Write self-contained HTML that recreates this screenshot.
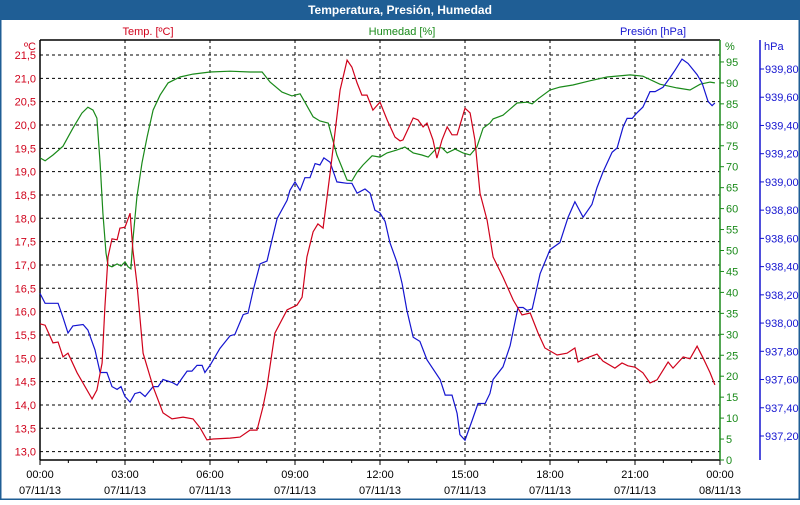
<!DOCTYPE html>
<html><head><meta charset="utf-8"><style>
body{margin:0;width:800px;height:500px;overflow:hidden;background:#fff;font-family:"Liberation Sans",sans-serif}
svg text{font-family:"Liberation Sans",sans-serif;font-size:11px}
</style></head><body>
<svg id="chart" width="800" height="500" xmlns="http://www.w3.org/2000/svg">
<rect x="0.5" y="0.5" width="799" height="499" fill="#fff" stroke="#1f5e95" stroke-width="2"/>
<rect x="0" y="0" width="800" height="20" fill="#1f5e95"/>
<text x="400" y="14" text-anchor="middle" fill="#fff" font-weight="bold" style="font-size:12px">Temperatura, Presión, Humedad</text>
<text x="148" y="35" text-anchor="middle" fill="#d0021b">Temp. [ºC]</text>
<text x="402" y="35" text-anchor="middle" fill="#1a8a1a">Humedad [%]</text>
<text x="653" y="35" text-anchor="middle" fill="#1515d0">Presión [hPa]</text>
<text x="36" y="50" text-anchor="end" fill="#d0021b">ºC</text>
<text x="725" y="50" fill="#1a8a1a">%</text>
<text x="764" y="50" fill="#1515d0">hPa</text>
<g id="grid"></g><g id="axes"></g><g id="series"></g>
</svg>
<script>
const tempTicks=[13.0,13.5,14.0,14.5,15.0,15.5,16.0,16.5,17.0,17.5,18.0,18.5,19.0,19.5,20.0,20.5,21.0,21.5];
const humTicks=[0,5,10,15,20,25,30,35,40,45,50,55,60,65,70,75,80,85,90,95];
const presTicks=[937.2,937.4,937.6,937.8,938.0,938.2,938.4,938.6,938.8,939.0,939.2,939.4,939.6,939.8];
const timeTicks=["00:00","03:00","06:00","09:00","12:00","15:00","18:00","21:00","00:00"];
const dateTicks=["07/11/13","07/11/13","07/11/13","07/11/13","07/11/13","07/11/13","07/11/13","07/11/13","08/11/13"];
const tempHours=[0,.18,.46,.64,.81,.99,1.31,1.84,2.01,2.19,2.29,2.40,2.54,2.72,2.82,3.00,3.18,3.28,3.42,3.64,3.99,4.34,4.66,5.05,5.40,5.65,5.89,6.11,6.71,7.06,7.41,7.66,7.87,8.01,8.29,8.72,9.07,9.25,9.42,9.64,9.81,9.99,10.24,10.59,10.84,11.01,11.19,11.36,11.54,11.75,12.00,12.25,12.53,12.71,12.81,13.17,13.34,13.52,13.66,13.87,14.01,14.19,14.37,14.54,14.72,15.00,15.18,15.35,15.53,15.78,15.99,16.34,16.70,17.01,17.30,17.58,17.82,18.25,18.60,18.88,18.99,19.31,19.66,19.87,20.29,20.54,20.75,21.00,21.28,21.53,21.78,22.17,22.34,22.70,22.94,23.19,23.40,23.65,23.82];
const tempValues=[15.74,15.71,15.33,15.35,15.03,15.11,14.69,14.13,14.32,14.90,16.10,17.17,17.56,17.54,17.79,17.81,18.11,17.32,16.61,15.11,14.39,13.83,13.70,13.74,13.70,13.51,13.25,13.27,13.29,13.31,13.46,13.46,13.96,14.39,15.54,16.04,16.14,16.31,17.17,17.71,17.88,17.79,18.97,20.75,21.39,21.24,20.90,20.64,20.64,20.32,20.49,20.11,19.74,19.66,19.68,20.15,20.11,19.96,20.04,19.68,19.29,19.68,19.96,19.79,19.79,20.36,20.26,19.68,18.54,17.96,17.17,16.74,16.25,15.93,15.97,15.54,15.22,15.07,15.11,15.22,14.92,15.01,15.09,14.94,14.79,14.90,14.84,14.81,14.69,14.47,14.54,14.92,14.79,15.03,14.99,15.26,15.01,14.69,14.43];
const humHours=[0,.18,.46,.81,1.16,1.48,1.69,1.87,2.01,2.12,2.22,2.33,2.40,2.54,2.72,2.86,3.00,3.11,3.21,3.28,3.42,3.60,3.78,3.99,4.24,4.52,4.94,5.40,6.00,6.71,7.41,7.84,8.12,8.54,8.89,9.18,9.35,9.64,9.88,10.17,10.48,10.84,11.01,11.19,11.40,11.72,12.00,12.25,12.60,12.88,13.17,13.48,13.70,14.01,14.19,14.37,14.65,14.93,15.18,15.42,15.64,15.88,15.99,16.34,16.84,17.19,17.37,17.58,18.00,18.35,18.81,19.41,20.01,20.83,21.28,21.88,22.48,22.94,23.30,23.65,23.82];
const humValues=[72.1,71.4,72.8,74.9,79.2,82.8,84.2,83.5,81.6,70.9,58.9,49.4,46.5,46.1,46.8,46.3,47.3,46.1,45.6,52.5,62.8,70.9,77.1,83.5,87.1,90.0,91.4,92.1,92.6,92.8,92.6,92.6,90.2,87.8,86.9,87.4,85.4,81.9,80.9,80.4,72.8,66.8,66.6,68.7,70.4,72.6,72.3,73.3,74.0,74.7,73.3,72.8,72.3,74.5,74.5,73.3,74.2,73.3,72.8,74.7,79.2,80.4,81.4,82.3,85.2,85.4,85.0,86.2,88.3,89.0,89.5,90.5,91.4,91.9,91.6,89.7,88.8,88.3,89.7,90.2,90.0];
const presHours=[0,.18,.64,.81,.99,1.16,1.52,1.69,1.94,2.12,2.36,2.54,2.72,2.86,3.00,3.18,3.35,3.53,3.71,3.99,4.17,4.34,4.66,4.84,5.19,5.36,5.54,5.72,5.82,6.00,6.35,6.71,6.88,7.17,7.34,7.52,7.77,8.01,8.19,8.37,8.72,8.82,9.00,9.18,9.35,9.53,9.71,9.88,10.02,10.24,10.48,10.84,11.01,11.19,11.47,11.65,11.82,12.00,12.18,12.35,12.60,12.78,12.95,13.17,13.41,13.66,14.12,14.30,14.54,14.72,14.82,15.00,15.25,15.46,15.71,15.88,15.99,16.34,16.59,16.87,17.05,17.19,17.37,17.65,18.00,18.35,18.64,18.88,19.17,19.48,19.66,19.87,20.19,20.37,20.58,20.72,20.90,21.07,21.28,21.53,21.71,21.99,22.24,22.41,22.66,22.87,23.19,23.37,23.58,23.72,23.82];
const presValues=[938.21,938.14,938.14,938.04,937.93,937.98,937.99,937.95,937.81,937.65,937.65,937.55,937.53,937.55,937.48,937.44,937.50,937.51,937.48,937.55,937.55,937.60,937.58,937.56,937.66,937.66,937.70,937.70,937.65,937.70,937.82,937.91,937.92,938.06,938.07,938.23,938.42,938.44,938.59,938.74,938.87,938.94,939.00,938.94,939.03,939.03,939.13,939.12,939.17,939.14,939.00,938.99,938.99,938.92,938.95,938.92,938.80,938.78,938.72,938.57,938.43,938.28,938.09,937.90,937.87,937.74,937.60,937.49,937.49,937.36,937.21,937.17,937.31,937.43,937.43,937.50,937.60,937.69,937.84,938.11,938.11,938.09,938.10,938.35,938.52,938.57,938.75,938.86,938.75,938.84,938.96,939.07,939.21,939.24,939.39,939.45,939.45,939.49,939.53,939.64,939.64,939.67,939.74,939.79,939.87,939.84,939.76,939.70,939.57,939.54,939.56];

const X0=40,X1=720,Y0=40,Y1=460;
const xS=h=>X0+h*(X1-X0)/24;
const yT=t=>55+(21.5-t)/0.5*23.33;
const yH=v=>460-v*4.19;
const yP=p=>69+(939.8-p)/0.2*28.23;
const NS="http://www.w3.org/2000/svg";
function mk(parent,tag,attrs,txt){const e=document.createElementNS(NS,tag);for(const k in attrs)e.setAttribute(k,attrs[k]);if(txt!==undefined)e.textContent=txt;parent.appendChild(e);return e;}
const grid=document.getElementById('grid'),axes=document.getElementById('axes'),ser=document.getElementById('series');
tempTicks.forEach(t=>{
  const l=mk(grid,'line',{x1:X0,x2:X1,y1:yT(t),y2:yT(t),stroke:'#000','stroke-dasharray':'3,3','stroke-width':1});
  
  
  const tx=mk(axes,'text',{x:36,y:yT(t)+4,'text-anchor':'end',fill:'#d0021b'},t.toFixed(1).replace('.',','));
  
  
});
for(let i=1;i<8;i++){
  const l=mk(grid,'line',{x1:xS(i*3),x2:xS(i*3),y1:Y0,y2:Y1,stroke:'#000','stroke-dasharray':'3,3','stroke-width':1});
  
  
}
for(let h=0;h<=24;h++){
  const l=mk(axes,'line',{x1:xS(h),x2:xS(h),y1:Y1,y2:Y1+(h%3?3:5),stroke:'#000'});
  
  
}
timeTicks.forEach((t,i)=>{
  const a=mk(axes,'text',{x:xS(i*3),y:478,'text-anchor':'middle',fill:'#000'},t);
  
  
  const b=mk(axes,'text',{x:xS(i*3),y:494,'text-anchor':'middle',fill:'#000'},dateTicks[i]);
  
  
});
humTicks.forEach(v=>{
  const l=mk(axes,'line',{x1:X1,x2:X1+4,y1:yH(v),y2:yH(v),stroke:'#1a8a1a'});
  
  
  const tx=mk(axes,'text',{x:726,y:yH(v)+4,fill:'#1a8a1a'},String(v));
  
  
});
presTicks.forEach(p=>{
  const l=mk(axes,'line',{x1:760,x2:764,y1:yP(p),y2:yP(p),stroke:'#1515d0'});
  
  
  const tx=mk(axes,'text',{x:765,y:yP(p)+4,fill:'#1515d0'},p.toFixed(2).replace('.',','));
  
  
});
const ax=[[X0,Y0,X0,Y1,'#000','left-axis'],[X0,Y1,X1,Y1,'#000','x-axis'],[X0,Y0,X1,Y0,'#000','top-border'],[X1,Y0,X1,Y1,'#1a8a1a','humidity-axis'],[760,Y0,760,Y1,'#1515d0','pressure-axis']];
ax.forEach(a=>{
  const l=mk(axes,'line',{x1:a[0],y1:a[1],x2:a[2],y2:a[3],stroke:a[4],'stroke-width':1.5});
  
  
});
function line(hours,vals,yf,color,name){
  const pts=hours.map((h,i)=>xS(h).toFixed(1)+','+yf(vals[i]).toFixed(1)).join(' ');
  const p=mk(ser,'polyline',{points:pts,fill:'none',stroke:color,'stroke-width':1.2});
  
  
}
line(humHours,humValues,yH,'#1a8a1a','humidity-line');
line(presHours,presValues,yP,'#1515d0','pressure-line');
line(tempHours,tempValues,yT,'#d0021b','temperature-line');
</script>
</body></html>
